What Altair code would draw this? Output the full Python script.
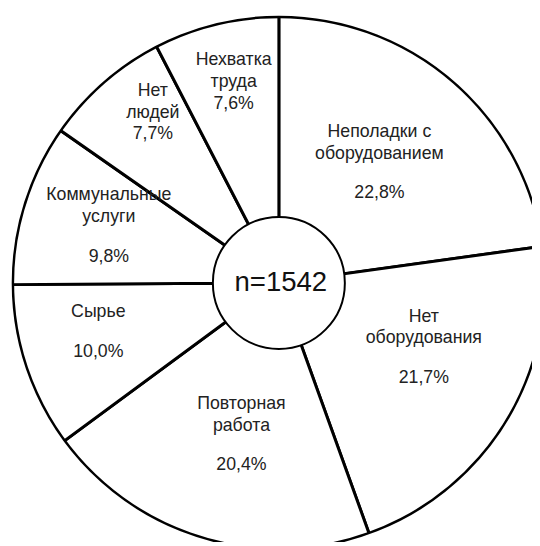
import altair as alt
import pandas as pd

# ---- data ----
names = ["Неполадки с\nоборудованием", "Нет\nоборудования", "Повторная\nработа",
         "Сырье", "Коммунальные\nуслуги", "Нет\nлюдей", "Нехватка\nтруда"]
percent = [22.8, 21.7, 20.4, 10.0, 9.8, 7.7, 7.6]
n_total = 1542

# ---- label layout (presentation only) ----
gap_px = [40, 40, 40, 40, 40, 22, 22]          # name -> percent spacing
label_radius = [159, 161, 159, 190, 182, 215, 209]
label_nudge_deg = [-1.1, -7.2, -3.1, 3.1, 1.2, 4.7, 1.0]
LH = 22

CX, CY = 275, 275
R_OUT, R_IN = 270, 67
FULL = 7.0  # > 2*pi so the arc is drawn as a full circle
FONT = "Liberation Sans, Arial, sans-serif"

df = pd.DataFrame({
    "idx": list(range(len(names))),
    "name": names,
    "nl": [n.count("\n") + 1 for n in names],
    "percent": percent,
    "pct": [f"{v:.1f}".replace(".", ",") + "%" for v in percent],
    "gap": gap_px,
    "lr": label_radius,
    "nudge": label_nudge_deg,
})

base = alt.Chart(df)

slices = base.mark_arc(
    outerRadius=R_OUT + 6, innerRadius=R_IN - 6,
    fill="white", stroke="black", strokeWidth=3, clip=True
).encode(
    theta=alt.Theta("percent:Q", stack=True),
    order=alt.Order("idx:Q"),
    x=alt.value(CX), y=alt.value(CY),
)

one = alt.Data(values=[{"a": 1}])

ring_fill = alt.Chart(one).mark_arc(
    innerRadius=R_OUT, outerRadius=R_OUT + 300, theta=0, theta2=FULL,
    fill="white", strokeWidth=0, clip=True
).encode(x=alt.value(CX), y=alt.value(CY))

rim = alt.Chart(one).mark_arc(
    innerRadius=R_OUT - 0.5, outerRadius=R_OUT + 0.5, theta=0, theta2=FULL,
    fill="white", fillOpacity=0, stroke="black", strokeWidth=1.5, clip=True
).encode(x=alt.value(CX), y=alt.value(CY))

hub = alt.Chart(one).mark_arc(
    innerRadius=0, outerRadius=R_IN, theta=0, theta2=FULL,
    fill="white", stroke="black", strokeWidth=2, clip=True
).encode(x=alt.value(CX), y=alt.value(CY))

label_base = base.transform_window(
    cum="sum(percent)", sort=[alt.SortField("idx")]
).transform_joinaggregate(
    total="sum(percent)"
).transform_calculate(
    tm="(datum.cum - datum.percent/2)/datum.total*2*PI + datum.nudge*PI/180",
    span=f"(datum.nl - 1)*{LH} + datum.gap",
).transform_calculate(
    lx=f"{CX} + datum.lr*sin(datum.tm)",
    ly=f"{CY} - datum.lr*cos(datum.tm)",
).transform_calculate(
    y_name="datum.ly - datum.span/2",
    y_pct="datum.ly + datum.span/2",
)

text_style = dict(font=FONT, fontSize=18, align="center", baseline="middle", color="#222")

name_text = label_base.mark_text(lineHeight=LH, lineBreak="\n", **text_style).encode(
    x=alt.X("lx:Q", scale=None, axis=None),
    y=alt.Y("y_name:Q", scale=None, axis=None),
    text="name:N",
)

pct_text = label_base.mark_text(**text_style).encode(
    x=alt.X("lx:Q", scale=None, axis=None),
    y=alt.Y("y_pct:Q", scale=None, axis=None),
    text="pct:N",
)

center = alt.Chart(alt.Data(values=[{"t": f"n={n_total}"}])).mark_text(
    font=FONT, fontSize=28, align="center", baseline="middle", color="#111"
).encode(x=alt.value(CX + 2), y=alt.value(CY), text="t:N")

chart = alt.layer(slices, ring_fill, rim, hub, name_text, pct_text, center).properties(
    width=532, height=538,
    autosize=alt.AutoSizeParams(type="none"),
    padding=0,
    background="white",
).configure_view(strokeWidth=0)

chart.save("out.html", embed_options={"renderer": "svg", "actions": False})
